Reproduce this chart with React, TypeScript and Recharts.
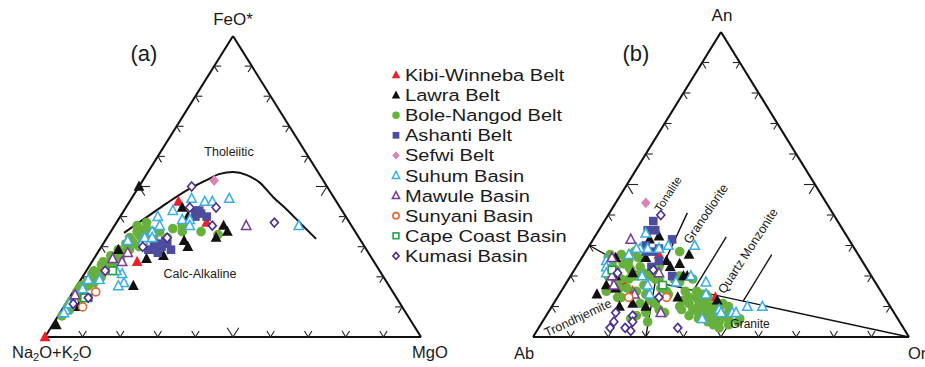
import React from 'react';
import { ScatterChart, Scatter, XAxis, YAxis, ReferenceLine } from 'recharts';

// ternary compositions in %, stored as [top, right]; left = 100 - top - right
// (a) top = FeO*, left = Na2O+K2O, right = MgO
const kibiA = [[0, 0], [45, 13], [25, 12], [38, 24], [36, 7]];
const lawraA = [[4, 1], [10, 4], [17, 15], [29, 5], [26, 14], [27, 18], [43, 15], [40, 18], [32, 21], [30, 23], [37, 29], [35, 31], [33, 29], [50, 0]];
const boleA = [
  [7, 1], [11, 1], [15, 1], [16, 1], [18, 2], [19, 3], [22, 4], [23, 4], [26, 5], [28, 6], [30, 7], [35, 7], [36, 7],
  [33, 9], [34, 8], [37, 6], [32, 10], [35, 11], [35, 13], [33, 16], [36, 16], [37, 18], [35, 19], [35, 24], [34, 29],
  [25, 5], [21, 4], [22, 2], [27, 6], [28, 7], [17, 1], [12, 1], [10, 1], [25, 3], [31, 8], [34, 10], [32, 13], [20, 3],
  [24, 6], [27, 4], [29, 8], [31, 6], [14, 2], [9, 2], [13, 3], [17, 3], [38, 8], [33, 6], [30, 10], [26, 7], [23, 6],
  [20, 5], [24, 3], [29, 5], [32, 7], [36, 9], [34, 12], [21, 2], [18, 4],
];
const ashantiA = [[29, 13], [30, 14], [31, 15], [32, 16], [28, 16], [30, 16], [31, 17], [29, 19], [29, 15], [42, 19], [42, 20], [41, 21], [40, 23], [40, 20], [13, 5]];
const sefwiA = [[52, 19]];
const suhumA = [
  [46, 26], [37, 49], [46, 16], [42, 13], [45, 20], [45, 22], [40, 10], [39, 17], [39, 19], [37, 20], [37, 12], [35, 11],
  [32, 6], [32, 10], [33, 10], [33, 12], [18, 12], [21, 10], [19, 2], [22, 5], [22, 8], [17, 11], [9, 1], [16, 2], [11, 1], [8, 1], [19, 5],
];
const mawuleA = [[37, 35], [26, 5], [28, 8], [25, 8], [14, 1]];
const sunyaniA = [[15, 6], [10, 5], [22, 5]];
const capeA = [[22, 7], [13, 4]];
const kumasiA = [[50, 14], [43, 17], [43, 24], [37, 26], [38, 42], [33, 16], [30, 11], [22, 5], [11, 2], [13, 5]];

// tholeiitic / calc-alkaline divide, [FeO*, MgO]
const curveA = [[34.6, 3.7], [39.9, 7.2], [44.5, 10.2], [48.8, 13.4], [52.2, 17.0], [54.2, 19.4], [54.8, 22.6], [53.8, 26.8], [51.2, 31.6], [46.5, 37.4], [42.2, 43.3], [37.9, 48.9], [32.6, 55.8]];

// (b) top = An, left = Ab, right = Or
const kibiB = [[27, 20], [15, 19], [13, 42], [18, 15], [16, 13]];
const lawraB = [[14, 10], [17, 11], [26, 9], [11, 21], [10, 25], [33, 17], [26, 17], [25, 23], [24, 27], [27, 28], [20, 30], [12, 43], [13, 32], [21, 16], [10, 18], [16, 14], [32, 15], [23, 25], [20, 12], [20, 31]];
const boleB = [
  [27, 10], [28, 13], [24, 12], [22, 11], [22, 15], [23, 17], [19, 16], [20, 18], [20, 21], [19, 24], [16, 26], [14, 29],
  [16, 15], [13, 16], [11, 23], [12, 25], [11, 27], [7, 24], [5, 28], [6, 23], [19, 28], [18, 30], [15, 33], [25, 13],
  [26, 15], [20, 17], [21, 19], [19, 23], [19, 14], [16, 17], [15, 20], [14, 23], [13, 17], [24, 9], [20, 10], [23, 22],
  [15, 28], [12, 26], [26, 7], [18, 13], [8, 26], [27, 7], [15, 12],
  [12, 34], [11, 36], [13, 37], [11, 40], [10, 42], [9, 38], [8, 40], [7, 43], [8, 44], [9, 45], [10, 34], [7, 38], [6, 41],
  [5, 44], [5, 47], [7, 48], [28, 25], [19, 33], [15, 36], [14, 38], [14, 39], [13, 35], [10, 39], [10, 43], [8, 48], [7, 44],
  [7, 46], [6, 49], [5, 52], [6, 52], [6, 45], [4, 46], [3, 48], [9, 35], [8, 41], [20, 29], [8, 31],
  [12, 38], [9, 41], [11, 45], [6, 47], [4, 50], [13, 40], [10, 47], [17, 21], [23, 14], [9, 29],
];
const ashantiB = [[38, 13], [35, 13], [35, 15], [32, 21], [28, 16], [28, 18], [25, 21], [23, 20], [20, 27], [30, 15], [29, 19]];
const sefwiB = [[44, 8]];
const suhumB = [
  [30, 28], [34, 13], [29, 14], [29, 16], [29, 19], [30, 21], [27, 12], [25, 7], [23, 8], [20, 19], [18, 29], [18, 37], [14, 39],
  [9, 45], [8, 46], [8, 49], [8, 50], [10, 52], [10, 56], [6, 42], [17, 22], [14, 24], [20, 32], [29, 13], [21, 9],
];
const mawuleB = [[32, 10], [26, 8], [20, 11], [17, 13], [14, 20], [21, 23], [8, 30]];
const sunyaniB = [[13, 19], [13, 29]];
const capeB = [[22, 10], [17, 26]];
const kumasiB = [[40, 14], [21, 12], [13, 27], [8, 18], [7, 23], [5, 24], [5, 19], [3, 19], [3, 23], [2, 25], [3, 37], [22, 21]];

// field boundaries of the An-Ab-Or diagram, [An, Or] end points
const fieldLinesB = [
  [[30, 0], [18, 23.5]],
  [[18, 23.5], [0, 100]],
  [[0, 30], [18, 23.5]],
  [[18, 23.5], [40.7, 20.7]],
  [[15.3, 35], [32.8, 35]],
  [[11.8, 50], [27, 50]],
];

const TICK_STEPS = [0.1, 0.2, 0.3, 0.4, 0.5, 0.6, 0.7, 0.8, 0.9];

const SERIES = [
  { name: 'Kibi-Winneba Belt', kind: 'tri', color: '#ec2229', a: kibiA, b: kibiB },
  { name: 'Lawra Belt', kind: 'tri', color: '#111111', a: lawraA, b: lawraB },
  { name: 'Bole-Nangod Belt', kind: 'circle', color: '#67b03c', a: boleA, b: boleB },
  { name: 'Ashanti Belt', kind: 'square', color: '#4d4c9e', a: ashantiA, b: ashantiB },
  { name: 'Sefwi Belt', kind: 'diamond', color: '#dc82b6', a: sefwiA, b: sefwiB },
  { name: 'Suhum Basin', kind: 'triOpen', color: '#3aaee4', a: suhumA, b: suhumB },
  { name: 'Mawule Basin', kind: 'triOpen', color: '#7a3b98', a: mawuleA, b: mawuleB },
  { name: 'Sunyani Basin', kind: 'circleOpen', color: '#e0692c', a: sunyaniA, b: sunyaniB },
  { name: 'Cape Coast Basin', kind: 'squareOpen', color: '#23a048', a: capeA, b: capeB },
  { name: 'Kumasi Basin', kind: 'diamondOpen', color: '#4b2e8e', a: kumasiA, b: kumasiB },
];
// drawing order (bottom to top)
const DRAW_ORDER = [0, 2, 1, 3, 4, 5, 6, 7, 8, 9];

const FONT = '"Liberation Sans", Arial, sans-serif';

const tern = (pts: number[][]) => pts.map(([top, right]) => ({ x: (right + top / 2) / 100, y: top / 100 }));
const ternPt = ([top, right]: number[]) => ({ x: (right + top / 2) / 100, y: top / 100 });

const Marker = ({ cx, cy, kind, color, s = 1 }: any) => {
  if (cx == null || cy == null) return <g />;
  switch (kind) {
    case 'tri':
      return <polygon points={`${cx},${cy - 6 * s} ${cx - 5.4 * s},${cy + 4.2 * s} ${cx + 5.4 * s},${cy + 4.2 * s}`} fill={color} />;
    case 'triOpen':
      return <polygon points={`${cx},${cy - 5.2 * s} ${cx - 4.7 * s},${cy + 3.8 * s} ${cx + 4.7 * s},${cy + 3.8 * s}`} fill="#fff" stroke={color} strokeWidth={1.5} />;
    case 'circle':
      return <circle cx={cx} cy={cy} r={4.8 * s} fill={color} />;
    case 'circleOpen':
      return <circle cx={cx} cy={cy} r={4 * s} fill="#fff" stroke={color} strokeWidth={1.6} />;
    case 'square':
      return <rect x={cx - 4.3 * s} y={cy - 4.3 * s} width={8.6 * s} height={8.6 * s} fill={color} />;
    case 'squareOpen':
      return <rect x={cx - 3.7 * s} y={cy - 3.7 * s} width={7.4 * s} height={7.4 * s} fill="#fff" stroke={color} strokeWidth={1.6} />;
    case 'diamond':
      return <polygon points={`${cx},${cy - 5.4 * s} ${cx + 4.8 * s},${cy} ${cx},${cy + 5.4 * s} ${cx - 4.8 * s},${cy}`} fill={color} />;
    default:
      return <polygon points={`${cx},${cy - 4.5 * s} ${cx + 4 * s},${cy} ${cx},${cy + 4.5 * s} ${cx - 4 * s},${cy}`} fill="#fff" stroke={color} strokeWidth={1.6} />;
  }
};

// chevron ticks along the three sides, lengths in px converted to data units
function tickSegments(w: number, h: number) {
  const len = Math.hypot(0.5 * w, h);
  const segs: { x: number; y: number }[][] = [];
  for (const t of TICK_STEPS) {
    const L = t === 0.5 ? 11 : 7;
    const a = L / len;
    const hz = L / w;
    segs.push([{ x: t, y: 0 }, { x: t + 0.5 * a, y: a }], [{ x: t, y: 0 }, { x: t - 0.5 * a, y: a }]);
    segs.push([{ x: t / 2, y: t }, { x: t / 2 + hz, y: t }], [{ x: t / 2, y: t }, { x: t / 2 + 0.5 * a, y: t - a }]);
    segs.push([{ x: 1 - t / 2, y: t }, { x: 1 - t / 2 - hz, y: t }], [{ x: 1 - t / 2, y: t }, { x: 1 - t / 2 - 0.5 * a, y: t - a }]);
  }
  return segs;
}

const EDGES = [
  [{ x: 0, y: 0 }, { x: 1, y: 0 }],
  [{ x: 0, y: 0 }, { x: 0.5, y: 1 }],
  [{ x: 1, y: 0 }, { x: 0.5, y: 1 }],
];

const Ternary = ({ which, width, height, margin, children }: any) => {
  const w = width - margin.left - margin.right;
  const h = height - margin.top - margin.bottom;
  const ticks = tickSegments(w, h);
  return (
    <ScatterChart width={width} height={height} margin={margin}>
      <XAxis type="number" dataKey="x" domain={[0, 1]} hide />
      <YAxis type="number" dataKey="y" domain={[0, 1]} hide />
      {EDGES.map((seg, i) => (
        <ReferenceLine key={`e${i}`} segment={seg} stroke="#111" strokeWidth={2.1} ifOverflow="visible" />
      ))}
      {ticks.map((seg, i) => (
        <ReferenceLine key={`t${i}`} segment={seg} stroke="#222" strokeWidth={1.1} ifOverflow="visible" />
      ))}
      {children}
      {DRAW_ORDER.map((idx) => {
        const s = SERIES[idx];
        return (
          <Scatter
            key={s.name}
            name={s.name}
            data={tern(which === 'a' ? s.a : s.b)}
            isAnimationActive={false}
            shape={(p: any) => <Marker cx={p.cx} cy={p.cy} kind={s.kind} color={s.color} />}
          />
        );
      })}
    </ScatterChart>
  );
};

export default function App() {
  const txt = { fontFamily: FONT, fill: '#1a1a1a' } as const;
  return (
    <div style={{ position: 'relative', width: 925, height: 367, overflow: 'hidden', background: '#fff' }}>
      <style>{'body{margin:0}'}</style>
      <div style={{ position: 'absolute', left: 0, top: 0 }}>
        <Ternary which="a" width={460} height={367} margin={{ top: 36, right: 39, bottom: 30, left: 45 }}>
          <Scatter
            data={tern(curveA)}
            isAnimationActive={false}
            line={{ stroke: '#111', strokeWidth: 2 }}
            lineJointType="monotoneX"
            shape={() => <g />}
          />
        </Ternary>
      </div>
      <div style={{ position: 'absolute', left: 460, top: 0 }}>
        <Ternary which="b" width={465} height={367} margin={{ top: 32, right: 16, bottom: 30, left: 73 }}>
          {fieldLinesB.map((l, i) => (
            <ReferenceLine key={`f${i}`} segment={[ternPt(l[0]), ternPt(l[1])]} stroke="#111" strokeWidth={1.4} ifOverflow="visible" />
          ))}
        </Ternary>
      </div>
      <svg width={925} height={367} style={{ position: 'absolute', left: 0, top: 0, pointerEvents: 'none' }}>
        <text x={233} y={25} textAnchor="middle" fontSize={17} {...txt}>FeO*</text>
        <text x={144} y={61} textAnchor="middle" fontSize={22} {...txt}>(a)</text>
        <text x={12} y={358} fontSize={16.5} {...txt}>
          Na<tspan fontSize={11} dy={3}>2</tspan><tspan dy={-3}>O+K</tspan><tspan fontSize={11} dy={3}>2</tspan><tspan dy={-3}>O</tspan>
        </text>
        <text x={412} y={358} fontSize={16.5} {...txt}>MgO</text>
        <text x={229} y={156} textAnchor="middle" fontSize={12.5} {...txt}>Tholeiitic</text>
        <text x={200} y={278} textAnchor="middle" fontSize={12.5} {...txt}>Calc-Alkaline</text>

        <text x={722} y={21} textAnchor="middle" fontSize={17} {...txt}>An</text>
        <text x={636} y={61} textAnchor="middle" fontSize={22} {...txt}>(b)</text>
        <text x={514} y={359} fontSize={16.5} {...txt}>Ab</text>
        <text x={908} y={359} fontSize={16.5} {...txt}>Or</text>
        <text transform="translate(668,194) rotate(-57)" textAnchor="middle" dy={4} fontSize={11.5} {...txt}>Tonalite</text>
        <text transform="translate(706,214) rotate(-56)" textAnchor="middle" dy={4} fontSize={12.5} {...txt}>Granodiorite</text>
        <text transform="translate(748,251) rotate(-57)" textAnchor="middle" dy={4} fontSize={12.5} {...txt}>Quartz Monzonite</text>
        <text transform="translate(578,318) rotate(-25)" textAnchor="middle" dy={4} fontSize={12.5} {...txt}>Trondhjemite</text>
        <text x={750} y={328} textAnchor="middle" fontSize={12} {...txt}>Granite</text>

        {SERIES.map((s, i) => {
          const cy = 75 + i * 20.1;
          return (
            <g key={s.name}>
              <Marker cx={396} cy={cy} kind={s.kind} color={s.color} s={0.78} />
              <g transform={`translate(405,${cy + 6}) scale(1.18,1)`}>
                <text x={0} y={0} fontSize={17} {...txt}>{s.name}</text>
              </g>
            </g>
          );
        })}
      </svg>
    </div>
  );
}
